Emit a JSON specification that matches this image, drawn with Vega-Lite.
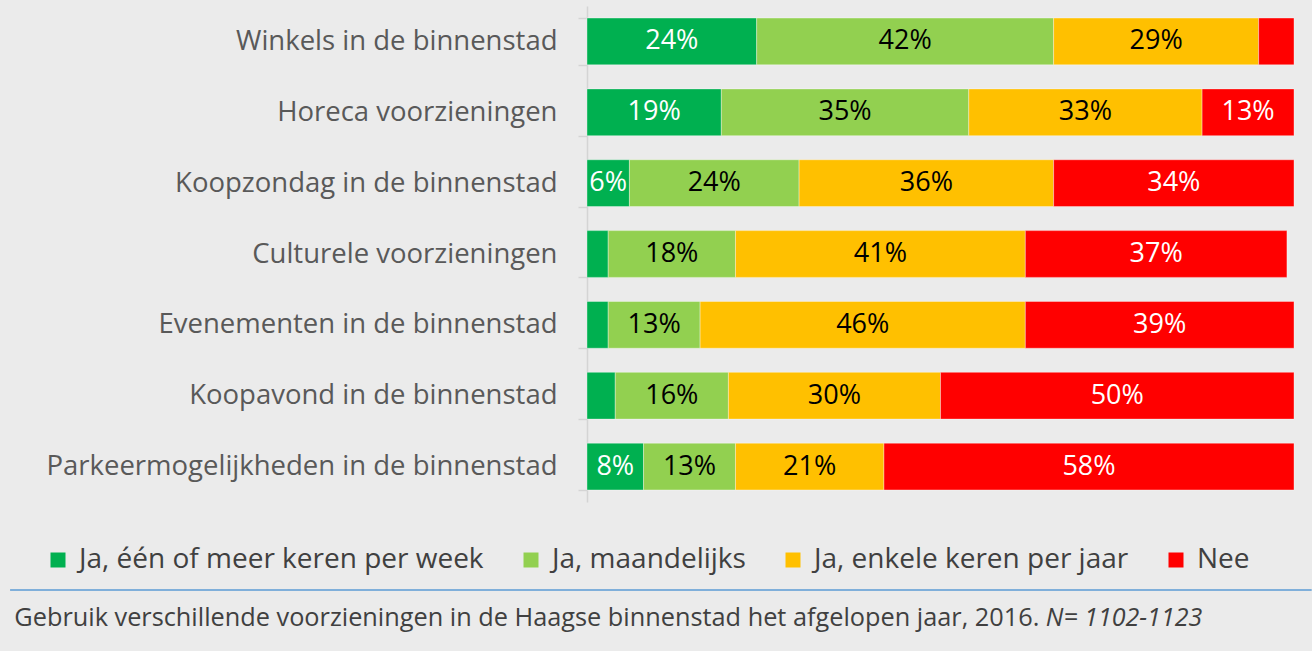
{
  "$schema": "https://vega.github.io/schema/vega-lite/v6.json",
  "autosize": "none",
  "width": 707,
  "height": 496,
  "padding": {"left": 587, "top": 6, "right": 18, "bottom": 149},
  "background": "#ebebeb",
  "config": {"view": {"stroke": null}, "font": "Open Sans"},
  "layer": [
    {
      "data": {"name": "rows", "values": [
        {"item": "Winkels in de binnenstad", "cat": "Ja, één of meer keren per week", "ord": 1, "value": 24, "label": "24%"},
        {"item": "Winkels in de binnenstad", "cat": "Ja, maandelijks", "ord": 2, "value": 42, "label": "42%"},
        {"item": "Winkels in de binnenstad", "cat": "Ja, enkele keren per jaar", "ord": 3, "value": 29, "label": "29%"},
        {"item": "Winkels in de binnenstad", "cat": "Nee", "ord": 4, "value": 5, "label": ""},
        {"item": "Horeca voorzieningen", "cat": "Ja, één of meer keren per week", "ord": 1, "value": 19, "label": "19%"},
        {"item": "Horeca voorzieningen", "cat": "Ja, maandelijks", "ord": 2, "value": 35, "label": "35%"},
        {"item": "Horeca voorzieningen", "cat": "Ja, enkele keren per jaar", "ord": 3, "value": 33, "label": "33%"},
        {"item": "Horeca voorzieningen", "cat": "Nee", "ord": 4, "value": 13, "label": "13%"},
        {"item": "Koopzondag in de binnenstad", "cat": "Ja, één of meer keren per week", "ord": 1, "value": 6, "label": "6%"},
        {"item": "Koopzondag in de binnenstad", "cat": "Ja, maandelijks", "ord": 2, "value": 24, "label": "24%"},
        {"item": "Koopzondag in de binnenstad", "cat": "Ja, enkele keren per jaar", "ord": 3, "value": 36, "label": "36%"},
        {"item": "Koopzondag in de binnenstad", "cat": "Nee", "ord": 4, "value": 34, "label": "34%"},
        {"item": "Culturele voorzieningen", "cat": "Ja, één of meer keren per week", "ord": 1, "value": 3, "label": ""},
        {"item": "Culturele voorzieningen", "cat": "Ja, maandelijks", "ord": 2, "value": 18, "label": "18%"},
        {"item": "Culturele voorzieningen", "cat": "Ja, enkele keren per jaar", "ord": 3, "value": 41, "label": "41%"},
        {"item": "Culturele voorzieningen", "cat": "Nee", "ord": 4, "value": 37, "label": "37%"},
        {"item": "Evenementen in de binnenstad", "cat": "Ja, één of meer keren per week", "ord": 1, "value": 3, "label": ""},
        {"item": "Evenementen in de binnenstad", "cat": "Ja, maandelijks", "ord": 2, "value": 13, "label": "13%"},
        {"item": "Evenementen in de binnenstad", "cat": "Ja, enkele keren per jaar", "ord": 3, "value": 46, "label": "46%"},
        {"item": "Evenementen in de binnenstad", "cat": "Nee", "ord": 4, "value": 38, "label": "39%"},
        {"item": "Koopavond in de binnenstad", "cat": "Ja, één of meer keren per week", "ord": 1, "value": 4, "label": ""},
        {"item": "Koopavond in de binnenstad", "cat": "Ja, maandelijks", "ord": 2, "value": 16, "label": "16%"},
        {"item": "Koopavond in de binnenstad", "cat": "Ja, enkele keren per jaar", "ord": 3, "value": 30, "label": "30%"},
        {"item": "Koopavond in de binnenstad", "cat": "Nee", "ord": 4, "value": 50, "label": "50%"},
        {"item": "Parkeermogelijkheden in de binnenstad", "cat": "Ja, één of meer keren per week", "ord": 1, "value": 8, "label": "8%"},
        {"item": "Parkeermogelijkheden in de binnenstad", "cat": "Ja, maandelijks", "ord": 2, "value": 13, "label": "13%"},
        {"item": "Parkeermogelijkheden in de binnenstad", "cat": "Ja, enkele keren per jaar", "ord": 3, "value": 21, "label": "21%"},
        {"item": "Parkeermogelijkheden in de binnenstad", "cat": "Nee", "ord": 4, "value": 58, "label": "58%"}
      ]},
      "layer": [
        {
          "mark": {"type": "bar", "stroke": "white", "strokeWidth": 0.8, "strokeOpacity": 0.45},
          "encoding": {
            "y": {"field": "item", "type": "nominal", "sort": null,
              "scale": {"paddingInner": 0.34, "paddingOuter": 0.17},
              "axis": {"title": null, "domainColor": "#d4d4d4", "domainWidth": 1.5, "tickColor": "#d4d4d4", "tickWidth": 1.5, "tickSize": 9, "tickBand": "extent", "labelFontSize": 27.5, "labelColor": "#595959", "labelPadding": 21, "labelLimit": 700}},
            "x": {"field": "value", "type": "quantitative", "stack": "zero", "scale": {"domain": [0, 100], "nice": false}, "axis": null},
            "color": {"field": "cat", "type": "nominal",
              "scale": {"domain": ["Ja, één of meer keren per week", "Ja, maandelijks", "Ja, enkele keren per jaar", "Nee"], "range": ["#00b050", "#92d050", "#ffc000", "#ff0000"]},
              "legend": {"orient": "none", "legendX": -543, "legendY": 540, "direction": "horizontal", "title": null, "symbolType": "square", "symbolSize": 225, "symbolStrokeWidth": 0, "symbolOpacity": 1, "labelFontSize": 28, "labelColor": "#404040", "labelOffset": 7, "columnPadding": 33, "labelLimit": 600, "padding": 0}},
            "order": {"field": "ord", "type": "quantitative"}
          }
        },
        {
          "transform": [
            {"stack": "value", "groupby": ["item"], "sort": [{"field": "ord", "order": "ascending"}], "as": ["v0", "v1"]},
            {"calculate": "(datum.v0 + datum.v1) / 2", "as": "mid"},
            {"filter": "datum.label != ''"}
          ],
          "mark": {"type": "text", "fontSize": 27, "baseline": "middle", "align": "center"},
          "encoding": {
            "y": {"field": "item", "type": "nominal", "sort": null},
            "x": {"field": "mid", "type": "quantitative"},
            "text": {"field": "label"},
            "color": {"condition": {"test": "datum.ord == 1 || datum.ord == 4", "value": "#ffffff"}, "value": "#000000"}
          }
        }
      ]
    },
    {
      "data": {"values": [{"x1": -81.6, "x2": 102.5}]},
      "mark": {"type": "rule", "color": "#5b9bd5", "strokeWidth": 1.5},
      "encoding": {
        "x": {"field": "x1", "type": "quantitative"},
        "x2": {"field": "x2"},
        "y": {"value": {"expr": "height + 88"}}
      }
    },
    {
      "data": {"values": [
        {"note": "Gebruik verschillende voorzieningen in de Haagse binnenstad het afgelopen jaar, 2016.", "pos": -81.0}
      ]},
      "mark": {"type": "text", "fontSize": 25.3, "align": "left", "baseline": "middle", "color": "#404040"},
      "encoding": {
        "x": {"field": "pos", "type": "quantitative"},
        "y": {"value": {"expr": "height + 116"}},
        "text": {"field": "note"}
      }
    },
    {
      "data": {"values": [
        {"note": "N= 1102-1123", "pos": 64.9}
      ]},
      "mark": {"type": "text", "fontSize": 25, "fontStyle": "italic", "align": "left", "baseline": "middle", "color": "#404040"},
      "encoding": {
        "x": {"field": "pos", "type": "quantitative"},
        "y": {"value": {"expr": "height + 116"}},
        "text": {"field": "note"}
      }
    }
  ]
}
